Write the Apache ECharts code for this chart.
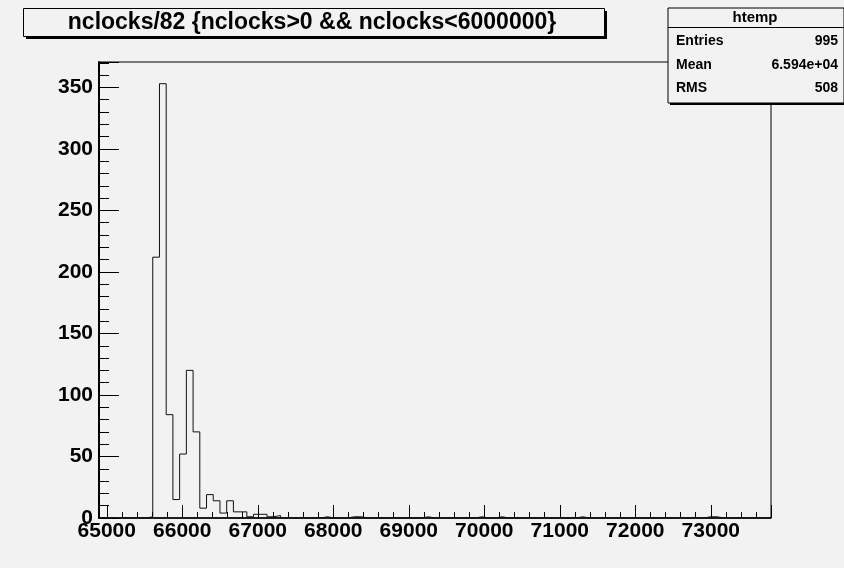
<!DOCTYPE html>
<html>
<head>
<meta charset="utf-8">
<script src="https://cdn.jsdelivr.net/npm/echarts@6/dist/echarts.min.js"></script>
<style>
  html, body { margin: 0; padding: 0; background: #f2f2f2; }
  #chart { width: 844px; height: 568px; }
</style>
</head>
<body>
<div id="chart"></div>
<script>
// ---- data ----
const titleText = 'nclocks/82 {nclocks>0 && nclocks<6000000}';
const histName = 'htemp';
const statLabels = ['Entries', 'Mean', 'RMS'];
const statValues = ['995', '6.594e+04', '508'];
const xRange = [64897, 73797];       // histogram axis range
const yMax = 370.65;                  // 1.05 * max bin
const binCounts = [
  0, 0, 0, 0, 0, 0, 0, 1, 212, 353,
  84, 15, 52, 120, 70, 8, 19, 14, 4, 14,
  5, 5, 1, 3, 3, 1, 2, 0, 0, 0,
  0, 0, 0, 1, 0, 0, 0, 1, 1, 0,
  0, 0, 0, 0, 0, 0, 0, 0, 1, 0,
  0, 0, 0, 0, 0, 0, 1, 0, 0, 1,
  0, 0, 0, 0, 0, 0, 0, 0, 0, 0,
  0, 1, 0, 0, 0, 0, 0, 0, 0, 0,
  0, 0, 0, 0, 0, 0, 0, 0, 0, 0,
  1, 1, 0, 0, 0, 0, 0, 0, 0, 0
];

// build step outline from bin edges
const nBins = binCounts.length;
const binW = (xRange[1] - xRange[0]) / nBins;
const stepData = binCounts.map((c, i) => [xRange[0] + i * binW, c]);
stepData.push([xRange[1], binCounts[nBins - 1]]);

const FONT = '"Liberation Sans", Arial, sans-serif';
const chart = echarts.init(document.getElementById('chart'), null, { renderer: 'canvas' });

const statsGraphics = [];
const sbX = 668, sbY = 8, sbW = 176, sbH = 95;
statsGraphics.push({ type: 'rect', shape: { x: sbX + 2, y: sbY + 2, width: sbW, height: sbH }, style: { fill: '#000' }, z: 100 });
statsGraphics.push({ type: 'rect', shape: { x: sbX, y: sbY, width: sbW, height: sbH }, style: { fill: '#f2f2f2', stroke: '#000', lineWidth: 1 }, z: 101 });
statsGraphics.push({ type: 'line', shape: { x1: sbX, y1: 27.5, x2: sbX + sbW, y2: 27.5 }, style: { stroke: '#000', lineWidth: 1 }, z: 102 });
statsGraphics.push({ type: 'text', x: 755, y: 18, style: { text: histName, font: 'bold 15px ' + FONT, fill: '#000', align: 'center', verticalAlign: 'middle' }, z: 103 });
const rowY = [41, 65, 88];
statLabels.forEach((lab, i) => {
  statsGraphics.push({ type: 'text', x: 676, y: rowY[i], style: { text: lab, font: 'bold 14px ' + FONT, fill: '#000', align: 'left', verticalAlign: 'middle' }, z: 103 });
  statsGraphics.push({ type: 'text', x: 838, y: rowY[i], style: { text: statValues[i], font: 'bold 14px ' + FONT, fill: '#000', align: 'right', verticalAlign: 'middle' }, z: 103 });
});

const option = {
  animation: false,
  backgroundColor: '#f2f2f2',
  grid: { left: 99, top: 62, right: 73, bottom: 50, show: true, borderColor: '#000', borderWidth: 1, backgroundColor: 'transparent' },
  xAxis: {
    type: 'value',
    min: xRange[0], max: xRange[1],
    splitNumber: 9,
    axisLine: { show: true, onZero: false, lineStyle: { color: '#000', width: 1.5 } },
    axisTick: { show: true, inside: true, length: 13, lineStyle: { color: '#000', width: 1 } },
    minorTick: { show: true, splitNumber: 5, length: 6, lineStyle: { color: '#000', width: 1 } },
    splitLine: { show: false },
    axisLabel: {
      show: true, margin: 3, showMinLabel: false, showMaxLabel: false,
      color: '#000', fontFamily: FONT, fontWeight: 'bold', fontSize: 21,
      formatter: v => String(v)
    }
  },
  yAxis: {
    type: 'value',
    min: 0, max: yMax, interval: 50,
    axisLine: { show: true, lineStyle: { color: '#000', width: 2 } },
    axisTick: { show: true, inside: true, length: 20, lineStyle: { color: '#000', width: 1 } },
    minorTick: { show: true, splitNumber: 5, length: 10, lineStyle: { color: '#000', width: 1 } },
    splitLine: { show: false },
    axisLabel: {
      show: true, margin: 6, showMaxLabel: false,
      color: '#000', fontFamily: FONT, fontWeight: 'bold', fontSize: 21,
      formatter: v => String(v)
    }
  },
  series: [{
    type: 'line',
    data: stepData,
    step: 'end',
    showSymbol: false,
    symbol: 'none',
    clip: true,
    lineStyle: { color: '#111', width: 1 },
    z: 5
  }],
  graphic: [
    { type: 'rect', shape: { x: 26, y: 11, width: 581, height: 28 }, style: { fill: '#000' }, z: 100 },
    { type: 'rect', shape: { x: 23.5, y: 8.5, width: 581, height: 28 }, style: { fill: '#f2f2f2', stroke: '#000', lineWidth: 1 }, z: 101 },
    { type: 'text', x: 312, y: 22.5, style: { text: titleText, font: 'bold 23px ' + FONT, fill: '#000', align: 'center', verticalAlign: 'middle' }, z: 102 }
  ].concat(statsGraphics)
};
chart.setOption(option);
</script>
</body>
</html>
